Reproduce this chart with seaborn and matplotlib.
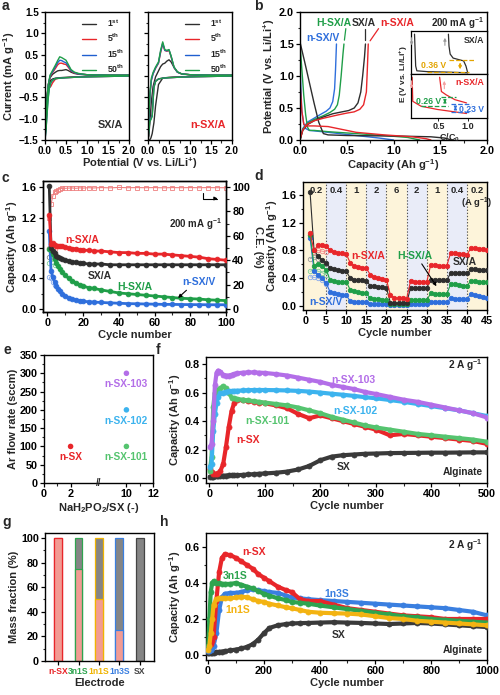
import numpy as np
import matplotlib
matplotlib.use("Agg")
import matplotlib.pyplot as plt
import seaborn as sns
from matplotlib.ticker import MultipleLocator, FixedLocator

# ----- data -----
# a: cyclic voltammetry (cathodic scan 2.0 -> 0 V, anodic scan 0 -> 2.0 V)
cv_cath_v = [2.0, 1.5, 1.0, 0.7, 0.5, 0.35, 0.25, 0.18, 0.14, 0.10, 0.07, 0.04, 0.02, 0.0]
cv_anod_v = [0.0, 0.02, 0.05, 0.08, 0.12, 0.18, 0.25, 0.30, 0.35, 0.40, 0.45, 0.50, 0.55, 0.62, 0.70, 0.80, 1.0, 1.5, 2.0]
cv_cycles = ["1$^{st}$", "5$^{th}$", "15$^{th}$", "50$^{th}$"]

sxa_cath_1 = [0.01, 0.0, -0.01, -0.02, -0.03, -0.04, -0.05, -0.07, -0.10, -0.20, -0.40, -0.80, -1.10, -1.50]
sxa_cath_5 = [0.0, -0.01, -0.02, -0.03, -0.04, -0.05, -0.07, -0.16, -0.24, -0.28, -0.45, -0.90, -1.20, -1.50]
sxa_cath_15 = [0.0, -0.01, -0.02, -0.03, -0.04, -0.05, -0.06, -0.10, -0.16, -0.30, -0.55, -1.00, -1.30, -1.50]
sxa_cath_50 = [0.0, -0.01, -0.02, -0.03, -0.04, -0.05, -0.06, -0.10, -0.15, -0.30, -0.60, -1.05, -1.30, -1.50]
sxa_anod_1 = [-1.5, -0.9, -0.45, -0.2, -0.04, 0.04, 0.09, 0.12, 0.13, 0.13, 0.14, 0.15, 0.13, 0.09, 0.06, 0.04, 0.03, 0.02, 0.02]
sxa_anod_5 = [-1.5, -1.0, -0.5, -0.2, -0.02, 0.08, 0.18, 0.26, 0.30, 0.30, 0.28, 0.27, 0.21, 0.12, 0.07, 0.05, 0.03, 0.02, 0.02]
sxa_anod_15 = [-1.5, -1.0, -0.5, -0.2, 0.0, 0.10, 0.22, 0.31, 0.37, 0.36, 0.33, 0.31, 0.24, 0.13, 0.08, 0.05, 0.03, 0.02, 0.02]
sxa_anod_50 = [-1.5, -1.0, -0.5, -0.2, 0.02, 0.13, 0.26, 0.36, 0.45, 0.43, 0.40, 0.37, 0.28, 0.15, 0.09, 0.06, 0.03, 0.02, 0.02]

nsxa_cath_1 = [0.01, 0.0, -0.01, -0.02, -0.03, -0.05, -0.20, -0.70, -1.10, -1.35, -1.45, -1.50, -1.50, -1.50]
nsxa_cath_5 = [0.0, -0.01, -0.02, -0.03, -0.04, -0.05, -0.07, -0.12, -0.25, -0.90, -1.00, -1.05, -1.30, -1.50]
nsxa_cath_15 = [0.0, -0.01, -0.02, -0.03, -0.04, -0.05, -0.07, -0.12, -0.26, -0.92, -1.00, -1.05, -1.30, -1.50]
nsxa_cath_50 = [0.0, -0.01, -0.02, -0.03, -0.04, -0.05, -0.07, -0.13, -0.28, -0.95, -1.02, -1.08, -1.32, -1.50]
nsxa_anod_1 = [-1.5, -1.4, -1.0, -0.6, -0.25, -0.02, 0.12, 0.22, 0.28, 0.30, 0.35, 0.38, 0.33, 0.20, 0.09, 0.05, 0.03, 0.02, 0.02]
nsxa_anod_5 = [-1.5, -1.0, -0.4, -0.1, 0.05, 0.18, 0.30, 0.55, 0.75, 0.60, 0.58, 0.60, 0.45, 0.20, 0.09, 0.05, 0.03, 0.02, 0.02]
nsxa_anod_15 = [-1.5, -1.0, -0.4, -0.1, 0.05, 0.19, 0.31, 0.57, 0.77, 0.60, 0.59, 0.61, 0.46, 0.20, 0.09, 0.05, 0.03, 0.02, 0.02]
nsxa_anod_50 = [-1.5, -0.95, -0.35, -0.05, 0.08, 0.21, 0.33, 0.60, 0.80, 0.62, 0.60, 0.62, 0.47, 0.21, 0.10, 0.05, 0.03, 0.02, 0.02]

# b: charge / discharge profiles at 200 mA/g
sxa_dis_cap = [0.0, 0.05, 0.10, 0.15, 0.20, 0.25, 0.30, 0.50, 0.80, 1.10, 1.40, 1.55, 1.62]
sxa_dis_v = [1.53, 1.22, 0.90, 0.58, 0.28, 0.10, 0.08, 0.07, 0.065, 0.06, 0.05, 0.03, 0.0]
sxa_chg_cap = [0.0, 0.03, 0.08, 0.15, 0.25, 0.35, 0.45, 0.52, 0.58, 0.62, 0.65, 0.67, 0.69, 0.70]
sxa_chg_v = [0.0, 0.15, 0.24, 0.30, 0.36, 0.41, 0.44, 0.46, 0.50, 0.58, 0.75, 1.0, 1.3, 1.5]
nsxa_dis_cap = [0.0, 0.02, 0.04, 0.06, 0.15, 0.30, 0.40, 0.60, 0.90, 1.20, 1.35, 1.40]
nsxa_dis_v = [0.90, 0.45, 0.25, 0.22, 0.22, 0.21, 0.18, 0.12, 0.08, 0.05, 0.02, 0.0]
nsxa_chg_cap = [0.0, 0.03, 0.08, 0.15, 0.25, 0.40, 0.50, 0.58, 0.64, 0.68, 0.71, 0.72, 0.73]
nsxa_chg_v = [0.0, 0.16, 0.25, 0.30, 0.34, 0.39, 0.42, 0.44, 0.48, 0.55, 0.75, 1.1, 1.5]
hsxa_dis_cap = [0.0, 0.02, 0.04, 0.06, 0.08, 0.10, 0.15, 0.30, 0.60, 0.90, 1.15, 1.28]
hsxa_dis_v = [1.5, 1.1, 0.7, 0.4, 0.2, 0.15, 0.15, 0.13, 0.10, 0.07, 0.04, 0.0]
hsxa_chg_cap = [0.0, 0.03, 0.08, 0.15, 0.25, 0.32, 0.37, 0.40, 0.42, 0.44, 0.46, 0.47]
hsxa_chg_v = [0.0, 0.17, 0.26, 0.32, 0.38, 0.43, 0.48, 0.55, 0.70, 1.0, 1.35, 1.5]
nsxv_dis_cap = [0.0, 0.01, 0.02, 0.04, 0.06, 0.10, 0.30, 0.60, 0.85, 1.0]
nsxv_dis_v = [1.15, 0.80, 0.45, 0.25, 0.18, 0.15, 0.12, 0.07, 0.03, 0.0]
nsxv_chg_cap = [0.0, 0.03, 0.08, 0.15, 0.22, 0.28, 0.32, 0.35, 0.37, 0.38, 0.39]
nsxv_chg_v = [0.0, 0.18, 0.28, 0.34, 0.40, 0.45, 0.50, 0.60, 0.80, 1.1, 1.5]

# b inset: normalised profiles (E in relative units)
in_sx_dis_c = [0.09, 0.10, 0.11, 0.13, 0.30, 0.60, 1.00]
in_sx_dis_e = [1.0, 0.6, 0.2, 0.08, 0.06, 0.05, 0.03]
in_sx_chg_c = [0.67, 0.68, 0.70, 0.75, 0.85, 0.93, 0.97, 1.00]
in_sx_chg_e = [1.0, 0.7, 0.5, 0.40, 0.36, 0.33, 0.20, 0.03]
in_nsx_dis_c = [0.05, 0.055, 0.06, 0.20, 0.48, 0.98]
in_nsx_dis_e = [1.0, 0.7, 0.41, 0.29, 0.21, 0.11]
in_nsx_chg_c = [0.52, 0.55, 0.63, 0.78, 0.98]
in_nsx_chg_e = [1.0, 0.65, 0.57, 0.45, 0.37]

# c: cycling at 200 mA/g
c_cycles = [1, 2, 3, 4, 5, 6, 7, 8, 10, 12, 14, 16, 18, 20, 23, 26, 30, 35, 40, 45, 50, 55, 60, 65, 70, 75, 80, 85, 90, 95, 100]
c_nsxa = [1.24, 0.85, 0.86, 0.84, 0.83, 0.83, 0.82, 0.82, 0.81, 0.80, 0.79, 0.79, 0.78, 0.77, 0.77, 0.76, 0.76, 0.75, 0.74, 0.74, 0.73, 0.73, 0.72, 0.72, 0.71, 0.70, 0.69, 0.68, 0.66, 0.65, 0.64]
c_sxa = [1.62, 0.80, 0.76, 0.73, 0.70, 0.68, 0.67, 0.66, 0.64, 0.63, 0.62, 0.61, 0.60, 0.60, 0.59, 0.59, 0.59, 0.58, 0.58, 0.58, 0.58, 0.58, 0.58, 0.58, 0.58, 0.58, 0.58, 0.58, 0.58, 0.58, 0.58]
c_hsxa = [0.79, 0.78, 0.72, 0.66, 0.60, 0.56, 0.52, 0.49, 0.44, 0.40, 0.37, 0.34, 0.32, 0.30, 0.28, 0.27, 0.25, 0.23, 0.21, 0.20, 0.19, 0.18, 0.17, 0.16, 0.15, 0.14, 0.135, 0.13, 0.12, 0.115, 0.11]
c_nsxv = [1.03, 0.50, 0.42, 0.36, 0.30, 0.26, 0.23, 0.20, 0.17, 0.15, 0.13, 0.12, 0.11, 0.10, 0.095, 0.09, 0.085, 0.08, 0.075, 0.07, 0.068, 0.065, 0.063, 0.06, 0.06, 0.058, 0.057, 0.056, 0.055, 0.055, 0.055]
c_ce = [75, 86, 93, 96, 97, 98, 98.5, 99, 99, 99.2, 99.3, 99.0, 99.4, 99.2, 99.5, 99.3, 99.6, 99.4, 99.7, 99.5, 99.6, 99.5, 99.6, 99.4, 99.6, 99.5, 99.6, 99.5, 99.6, 99.5, 99.5]
c_dis_cycles = [1, 2, 3, 4]
c_nsxa_dis = [0.80, 0.82, 0.80, 0.79]
c_sxa_dis = [0.68, 0.70, 0.68, 0.66]
c_hsxa_dis = [0.60, 0.66, 0.62, 0.58]
c_nsxv_dis = [0.42, 0.40, 0.36, 0.32]

# d: rate capability
d_rates = ["0.2", "0.4", "1", "2", "6", "2", "1", "0.4", "0.2"]
d_nsxa = [1.05, 0.80, 0.88, 0.88, 0.87, 0.80, 0.78, 0.77, 0.76, 0.75, 0.62, 0.58, 0.56, 0.55, 0.54, 0.45, 0.42, 0.40, 0.39, 0.38, 0.15, 0.12, 0.11, 0.11, 0.10, 0.36, 0.35, 0.34, 0.34, 0.34, 0.59, 0.59, 0.58, 0.58, 0.58, 0.77, 0.76, 0.75, 0.75, 0.74, 0.83, 0.83, 0.82, 0.82, 0.81]
d_sxa = [1.65, 0.80, 0.72, 0.66, 0.62, 0.55, 0.53, 0.52, 0.51, 0.50, 0.40, 0.38, 0.37, 0.37, 0.36, 0.29, 0.28, 0.27, 0.27, 0.26, 0.04, 0.04, 0.04, 0.04, 0.04, 0.26, 0.26, 0.26, 0.26, 0.26, 0.37, 0.37, 0.37, 0.37, 0.37, 0.48, 0.47, 0.47, 0.47, 0.47, 0.53, 0.53, 0.52, 0.52, 0.52]
d_hsxa = [1.03, 0.58, 0.60, 0.57, 0.52, 0.37, 0.36, 0.35, 0.34, 0.35, 0.23, 0.21, 0.20, 0.19, 0.18, 0.11, 0.10, 0.10, 0.09, 0.09, 0.02, 0.02, 0.02, 0.02, 0.02, 0.08, 0.08, 0.08, 0.08, 0.08, 0.18, 0.17, 0.17, 0.17, 0.17, 0.32, 0.31, 0.30, 0.29, 0.29, 0.36, 0.36, 0.35, 0.35, 0.35]
d_nsxv = [0.98, 0.50, 0.45, 0.40, 0.33, 0.20, 0.18, 0.17, 0.16, 0.15, 0.07, 0.06, 0.06, 0.05, 0.05, 0.03, 0.03, 0.02, 0.02, 0.02, 0.01, 0.01, 0.01, 0.01, 0.01, 0.02, 0.02, 0.02, 0.02, 0.02, 0.05, 0.05, 0.05, 0.05, 0.05, 0.11, 0.10, 0.10, 0.10, 0.10, 0.17, 0.15, 0.14, 0.13, 0.12]
d_dis_cycles = [1, 2, 3, 4, 5]
d_nsxa_dis = [1.02, 0.78, 0.80, 0.79, 0.78]
d_sxa_dis = [0.68, 0.70, 0.68, 0.63, 0.60]
d_hsxa_dis = [0.50, 0.52, 0.50, 0.48, 0.45]
d_nsxv_dis = [0.42, 0.41, 0.40, 0.38, 0.32]

# e: synthesis conditions
e_names = ["n-SX", "n-SX-101", "n-SX-102", "n-SX-103"]
e_ratio = [2, 10, 10, 10]
e_flow = [100, 100, 200, 300]

# f: 2 A/g, 500 cycles
f_cycles = [1, 4, 7, 10, 13, 16, 20, 25, 30, 35, 40, 45, 50, 60, 70, 80, 90, 100, 120, 140, 160, 180, 200, 220, 240, 260, 280, 300, 325, 350, 375, 400, 425, 450, 475, 500]
f_103 = [0.22, 0.24, 0.40, 0.65, 0.74, 0.755, 0.745, 0.725, 0.72, 0.72, 0.725, 0.73, 0.735, 0.74, 0.742, 0.742, 0.74, 0.738, 0.73, 0.72, 0.705, 0.69, 0.675, 0.655, 0.64, 0.625, 0.605, 0.59, 0.57, 0.55, 0.535, 0.515, 0.495, 0.475, 0.455, 0.425]
f_102 = [0.08, 0.10, 0.33, 0.45, 0.53, 0.57, 0.595, 0.60, 0.605, 0.61, 0.61, 0.612, 0.613, 0.615, 0.617, 0.618, 0.618, 0.618, 0.617, 0.615, 0.612, 0.607, 0.60, 0.592, 0.585, 0.577, 0.568, 0.56, 0.548, 0.535, 0.52, 0.505, 0.49, 0.475, 0.455, 0.435]
f_101 = [0.05, 0.15, 0.50, 0.60, 0.62, 0.62, 0.63, 0.645, 0.63, 0.60, 0.565, 0.56, 0.555, 0.55, 0.545, 0.54, 0.535, 0.53, 0.52, 0.51, 0.495, 0.475, 0.455, 0.43, 0.41, 0.39, 0.37, 0.355, 0.34, 0.325, 0.31, 0.30, 0.29, 0.28, 0.27, 0.255]
f_nsx = [0.06, 0.04, 0.03, 0.03, 0.03, 0.035, 0.05, 0.10, 0.22, 0.36, 0.47, 0.53, 0.55, 0.545, 0.54, 0.535, 0.53, 0.525, 0.51, 0.49, 0.45, 0.42, 0.44, 0.42, 0.40, 0.38, 0.36, 0.34, 0.30, 0.31, 0.30, 0.29, 0.28, 0.27, 0.26, 0.24]
f_sx = [0.01, 0.01, 0.01, 0.012, 0.013, 0.014, 0.015, 0.016, 0.017, 0.018, 0.019, 0.02, 0.02, 0.022, 0.025, 0.027, 0.03, 0.032, 0.037, 0.045, 0.06, 0.085, 0.125, 0.15, 0.16, 0.165, 0.17, 0.172, 0.175, 0.176, 0.177, 0.178, 0.178, 0.179, 0.18, 0.18]

# g: electrode composition
g_names = ["n-SX", "3n1S", "1n1S", "1n3S", "SX"]
g_nsx_frac = [100, 75, 50, 25, 0]
g_total = [100, 100, 100, 100, 100]

# h: 2 A/g, 1000 cycles
h_cycles = [1, 5, 10, 15, 20, 30, 40, 50, 60, 80, 100, 120, 140, 160, 180, 200, 220, 250, 280, 300, 330, 360, 400, 450, 500, 550, 600, 650, 700, 750, 800, 850, 900, 950, 1000]
h_nsx = [0.05, 0.05, 0.06, 0.08, 0.10, 0.30, 0.46, 0.54, 0.56, 0.555, 0.54, 0.52, 0.50, 0.48, 0.45, 0.43, 0.41, 0.38, 0.36, 0.35, 0.31, 0.30, 0.30, 0.28, 0.26, 0.25, 0.24, 0.23, 0.22, 0.215, 0.21, 0.20, 0.20, 0.20, 0.20]
h_3n1s = [0.05, 0.20, 0.35, 0.40, 0.41, 0.40, 0.40, 0.395, 0.395, 0.395, 0.40, 0.39, 0.38, 0.37, 0.355, 0.34, 0.33, 0.315, 0.305, 0.295, 0.29, 0.285, 0.275, 0.265, 0.255, 0.245, 0.235, 0.225, 0.215, 0.21, 0.20, 0.195, 0.19, 0.185, 0.18]
h_1n1s = [0.03, 0.05, 0.12, 0.20, 0.28, 0.31, 0.315, 0.315, 0.315, 0.315, 0.32, 0.325, 0.32, 0.31, 0.30, 0.295, 0.285, 0.275, 0.265, 0.26, 0.25, 0.24, 0.235, 0.232, 0.23, 0.225, 0.215, 0.205, 0.20, 0.19, 0.185, 0.18, 0.175, 0.17, 0.165]
h_1n3s = [0.02, 0.02, 0.03, 0.04, 0.05, 0.12, 0.25, 0.32, 0.34, 0.345, 0.345, 0.35, 0.36, 0.365, 0.36, 0.355, 0.35, 0.345, 0.33, 0.32, 0.315, 0.31, 0.305, 0.30, 0.295, 0.29, 0.285, 0.28, 0.275, 0.27, 0.265, 0.26, 0.25, 0.24, 0.22]
h_sx = [0.01, 0.01, 0.01, 0.012, 0.013, 0.015, 0.017, 0.019, 0.021, 0.025, 0.03, 0.036, 0.045, 0.06, 0.085, 0.12, 0.15, 0.165, 0.172, 0.175, 0.177, 0.178, 0.18, 0.182, 0.18, 0.178, 0.175, 0.172, 0.175, 0.178, 0.175, 0.17, 0.165, 0.16, 0.155]

# ----- colours -----
RED = "#e8262a"
BLACK = "#2e2e2e"
GREEN = "#1f9e48"
BLUE = "#2f6fdc"
PURPLE = "#b36ee8"
SKY = "#3cb3ee"
LGREEN = "#55c46f"
YELLOW = "#f3b312"
GOLD = "#e3a400"
PINK = "#f29b93"
GREY = "#858585"

sns.set_style("ticks")
plt.rcParams["font.family"] = ["Liberation Sans", "DejaVu Sans"]
plt.rcParams["font.weight"] = "bold"
plt.rcParams["axes.labelweight"] = "bold"
plt.rcParams["mathtext.fontset"] = "custom"
plt.rcParams["mathtext.rm"] = "Liberation Sans:bold"
plt.rcParams["mathtext.bf"] = "Liberation Sans:bold"
plt.rcParams["mathtext.it"] = "Liberation Sans:bold"
plt.rcParams["mathtext.default"] = "bf"
plt.rcParams["axes.linewidth"] = 1.0
plt.rcParams["axes.edgecolor"] = "black"

W, H = 500, 695
TS = 7.8   # tick size
LS = 8.0   # label size


def rect(l, t, r, b):
    return [l / W, 1 - b / H, (r - l) / W, (b - t) / H]


def style(ax, xmaj=None, xmin=None, ymaj=None, ymin=None, ts=TS):
    for s in ax.spines.values():
        s.set_visible(True)
        s.set_linewidth(1.0)
        s.set_color("black")
    ax.tick_params(which="major", direction="out", length=3, width=0.9, labelsize=ts, pad=1.5, colors="black")
    ax.tick_params(which="minor", direction="out", length=1.8, width=0.8)
    if xmaj:
        ax.xaxis.set_major_locator(MultipleLocator(xmaj))
    if xmin:
        ax.xaxis.set_minor_locator(MultipleLocator(xmin))
    if ymaj:
        ax.yaxis.set_major_locator(MultipleLocator(ymaj))
    if ymin:
        ax.yaxis.set_minor_locator(MultipleLocator(ymin))
    ax.xaxis.label.set_size(LS)
    ax.yaxis.label.set_size(LS)


def curve(ax, x, y, color, lw=0.9, **kw):
    sns.lineplot(x=x, y=y, ax=ax, color=color, lw=lw, sort=False, estimator=None, **kw)


def dots(ax, x, y, color, lw=0.8, ms=3.2, hollow=False, z=3, alpha=1.0, marker="o"):
    sns.lineplot(x=x, y=y, ax=ax, color=color, lw=lw, sort=False, estimator=None,
                 marker=marker, markersize=ms, markeredgecolor=color,
                 markerfacecolor="none" if hollow else color,
                 markeredgewidth=0.6, zorder=z, alpha=alpha)


fig = plt.figure(figsize=(5.0, 6.95), dpi=100)

# ----------------------------------------------------------------------
# a  CV curves
# ----------------------------------------------------------------------
cv_colors = [BLACK, RED, "#1f5fd0", GREEN]
axa1 = fig.add_axes(rect(45, 12, 129, 140))
axa2 = fig.add_axes(rect(148, 12, 232, 140))
panels_a = [
    (axa1, [sxa_cath_1, sxa_cath_5, sxa_cath_15, sxa_cath_50], [sxa_anod_1, sxa_anod_5, sxa_anod_15, sxa_anod_50], "SX/A", BLACK),
    (axa2, [nsxa_cath_1, nsxa_cath_5, nsxa_cath_15, nsxa_cath_50], [nsxa_anod_1, nsxa_anod_5, nsxa_anod_15, nsxa_anod_50], "n-SX/A", RED),
]
for ax, caths, anods, name, ncol in panels_a:
    for cath, anod, col, lab in zip(caths, anods, cv_colors, cv_cycles):
        curve(ax, cv_cath_v + cv_anod_v, cath + anod, col, lw=1.0, label=lab)
    ax.set_xlim(0, 2)
    ax.set_ylim(-1.5, 1.5)
    style(ax, 0.5, 0.25, 0.5, 0.25, ts=7.2)
    ax.set_xlabel("")
    ax.set_ylabel("")
    ax.legend(loc="upper right", frameon=False, fontsize=6.3, handlelength=1.6,
              handletextpad=1.2, labelspacing=0.35, borderaxespad=0.2)
    ax.text(0.93, 0.08, name, transform=ax.transAxes, ha="right", va="bottom",
            fontsize=7.8, color=ncol, fontweight="bold")
axa2.set_yticklabels([])
axa1.set_ylabel("Current (mA g$^{-1}$)", fontsize=LS, labelpad=1)
fig.text(140 / W, 1 - 163 / H, "Potential (V vs. Li/Li$^{+}$)", ha="center", va="center",
         fontsize=LS, fontweight="bold")
fig.text(2 / W, 1 - 6 / H, "a", fontsize=10, fontweight="bold", va="center")

# ----------------------------------------------------------------------
# b  charge / discharge profiles
# ----------------------------------------------------------------------
axb = fig.add_axes(rect(300, 12, 487, 140))
for dc, dv, cc, cv, col in [
    (nsxv_dis_cap, nsxv_dis_v, nsxv_chg_cap, nsxv_chg_v, BLUE),
    (hsxa_dis_cap, hsxa_dis_v, hsxa_chg_cap, hsxa_chg_v, GREEN),
    (sxa_dis_cap, sxa_dis_v, sxa_chg_cap, sxa_chg_v, BLACK),
    (nsxa_dis_cap, nsxa_dis_v, nsxa_chg_cap, nsxa_chg_v, RED),
]:
    curve(axb, dc, dv, col, lw=1.0)
    curve(axb, cc, cv, col, lw=1.0)
axb.set_xlim(0, 2)
axb.set_ylim(0, 2)
style(axb, 0.5, 0.25, 0.5, 0.25)
axb.set_xlabel("Capacity (Ah g$^{-1}$)", labelpad=1)
axb.set_ylabel("Potential (V vs. Li/Li$^{+}$)", labelpad=1)
for txt, x, y, col in [("n-SX/V", 0.24, 1.59, BLUE), ("H-SX/A", 0.36, 1.83, GREEN),
                       ("SX/A", 0.68, 1.83, BLACK), ("n-SX/A", 1.04, 1.83, RED)]:
    axb.text(x, y, txt, color=col, fontsize=7.5, ha="center", va="center", fontweight="bold")
for x0, y0, x1, y1, col in [(0.475, 1.56, 0.49, 1.74, GREEN), (0.70, 1.56, 0.70, 1.74, BLACK),
                            (0.75, 1.55, 0.84, 1.74, RED)]:
    axb.plot([x0, x1], [y0, y1], color=col, lw=0.9)
axb.text(1.69, 1.83, "200 mA g$^{-1}$", fontsize=7, ha="center", va="center", fontweight="bold")
fig.text(254 / W, 1 - 6 / H, "b", fontsize=10, fontweight="bold", va="center")

# inset
ax_it = fig.add_axes(rect(411, 31, 487, 74))
ax_ib = fig.add_axes(rect(411, 74, 487, 118))
curve(ax_it, in_sx_dis_c, in_sx_dis_e, BLACK, lw=0.9)
curve(ax_it, in_sx_chg_c, in_sx_chg_e, BLACK, lw=0.9)
curve(ax_ib, in_nsx_dis_c, in_nsx_dis_e, RED, lw=0.9)
curve(ax_ib, in_nsx_chg_c, in_nsx_chg_e, RED, lw=0.9)
for ax in (ax_it, ax_ib):
    ax.set_xlim(0.03, 1.33)
    ax.set_ylim(0, 1.08)
    for s in ax.spines.values():
        s.set_linewidth(0.9)
        s.set_color("black")
    ax.set_yticks([])
    ax.set_xticks([0.5, 1.0])
    ax.tick_params(axis="x", direction="out", length=2, width=0.7, labelsize=6.5, pad=1)
    ax.set_xlabel("")
    ax.set_ylabel("")
ax_it.set_xticklabels([])
ax_ib.set_xlabel("C/C$_0$", fontsize=6.5, labelpad=0)
ax_it.hlines([0.36, 0.05], [0.68, 0.30], [1.12, 1.02], colors=GOLD, linestyles="--", lw=0.9)
ax_it.annotate("", xy=(0.87, 0.05), xytext=(0.87, 0.36),
               arrowprops=dict(arrowstyle="<|-|>", color=GOLD, lw=0.8, mutation_scale=4))
ax_it.text(0.42, 0.22, "0.36 V", color=GOLD, fontsize=6.2, ha="center", va="center", fontweight="bold")
ax_it.text(1.28, 0.84, "SX/A", color=BLACK, fontsize=6.3, ha="right", va="center", fontweight="bold")
ax_it.annotate("", xy=(0.04, 0.65), xytext=(0.04, 0.98),
               arrowprops=dict(arrowstyle="-|>", color="#999999", lw=0.8, mutation_scale=4))
ax_it.annotate("", xy=(0.61, 0.98), xytext=(0.61, 0.65),
               arrowprops=dict(arrowstyle="-|>", color="#999999", lw=0.8, mutation_scale=4))
ax_ib.hlines([0.52, 0.30], [0.55, 0.20], [0.80, 0.66], colors=GREEN, linestyles="--", lw=0.9)
ax_ib.annotate("", xy=(0.61, 0.30), xytext=(0.61, 0.52),
               arrowprops=dict(arrowstyle="<|-|>", color=GREEN, lw=0.8, mutation_scale=4))
ax_ib.text(0.33, 0.40, "0.26 V", color=GREEN, fontsize=6.2, ha="center", va="center", fontweight="bold")
ax_ib.hlines([0.35, 0.14], [0.72, 0.72], [1.06, 1.06], colors=BLUE, linestyles="--", lw=0.9)
ax_ib.annotate("", xy=(0.79, 0.14), xytext=(0.79, 0.35),
               arrowprops=dict(arrowstyle="<|-|>", color=BLUE, lw=0.8, mutation_scale=4))
ax_ib.text(1.06, 0.2, "0.23 V", color=BLUE, fontsize=6.2, ha="center", va="center", fontweight="bold")
ax_ib.text(1.28, 0.86, "n-SX/A", color=RED, fontsize=6.3, ha="right", va="center", fontweight="bold")
ax_ib.annotate("", xy=(0.04, 0.65), xytext=(0.04, 0.98),
               arrowprops=dict(arrowstyle="-|>", color="#f4a0a0", lw=0.8, mutation_scale=4))
ax_ib.annotate("", xy=(0.6, 0.98), xytext=(0.6, 0.65),
               arrowprops=dict(arrowstyle="-|>", color="#f4a0a0", lw=0.8, mutation_scale=4))
fig.text(404 / W, 1 - 74 / H, "E (V vs. Li/Li$^{+}$)", rotation=90, ha="center", va="center",
         fontsize=6.0, fontweight="bold")

# ----------------------------------------------------------------------
# c  cycling at 200 mA/g
# ----------------------------------------------------------------------
axc = fig.add_axes(rect(43, 181, 226, 312))
axc2 = axc.twinx()
dots(axc2, c_cycles, c_ce, "#ee7f7f", lw=0.8, ms=2.6, hollow=True, z=2, marker="s")
dots(axc, c_dis_cycles, c_nsxa_dis, "#f08a8a", lw=0, ms=3.2, hollow=True)
dots(axc, c_dis_cycles, c_sxa_dis, "#888888", lw=0, ms=3.2, hollow=True)
dots(axc, c_dis_cycles, c_hsxa_dis, "#7fcf98", lw=0, ms=3.2, hollow=True)
dots(axc, c_dis_cycles, c_nsxv_dis, "#86a8ec", lw=0, ms=3.2, hollow=True)
dots(axc, c_cycles, c_nsxv, BLUE, lw=2.0, ms=3.4)
dots(axc, c_cycles, c_hsxa, GREEN, lw=2.0, ms=3.4)
dots(axc, c_cycles, c_sxa, BLACK, lw=2.0, ms=3.4)
dots(axc, c_cycles, c_nsxa, RED, lw=2.0, ms=3.4)
axc.set_xlim(-2.5, 100)
axc.set_ylim(-0.04, 1.68)
axc2.set_ylim(-2.5, 105)
style(axc, 20, 10, 0.4, 0.2)
style(axc2, None, None, 20, 10)
axc2.tick_params(axis="y", which="both", right=True, left=False, labelright=True, labelleft=False)
axc.tick_params(axis="y", which="both", right=False)
axc.set_xlabel("Cycle number", labelpad=1)
axc.set_ylabel("Capacity (Ah g$^{-1}$)", labelpad=1)
axc2.set_ylabel("C.E. (%)", rotation=270, labelpad=9, fontsize=LS)
axc.set_zorder(axc2.get_zorder() + 1)
axc.patch.set_visible(False)
for txt, x, y, col in [("n-SX/A", 19.5, 0.90, RED), ("SX/A", 29.5, 0.43, BLACK),
                       ("H-SX/A", 49, 0.29, GREEN), ("n-SX/V", 85, 0.36, BLUE)]:
    axc.text(x, y, txt, color=col, fontsize=7.5, ha="center", va="center", fontweight="bold")
axc.text(83, 1.11, "200 mA g$^{-1}$", fontsize=7, ha="center", va="center", fontweight="bold")
axc.annotate("", xy=(72, 0.12), xytext=(79, 0.27),
             arrowprops=dict(arrowstyle="-|>", color="black", lw=0.8, mutation_scale=5))
axc.annotate("", xy=(97, 1.45), xytext=(87, 1.56),
             arrowprops=dict(arrowstyle="-|>", color="black", lw=0.8, mutation_scale=5,
                             connectionstyle="angle,angleA=90,angleB=0,rad=0"))
fig.text(2 / W, 1 - 178 / H, "c", fontsize=10, fontweight="bold", va="center")

# ----------------------------------------------------------------------
# d  rate capability
# ----------------------------------------------------------------------
axd = fig.add_axes(rect(303, 182, 487, 310))
d_cycles = list(range(1, len(d_nsxa) + 1))
band_cols = ["#fdf4da", "#e9ecf8"]
for i, r in enumerate(d_rates):
    lo = -0.75 if i == 0 else 5 * i
    axd.axvspan(lo, 5 * (i + 1), color=band_cols[i % 2], zorder=0, lw=0)
    if i > 0:
        axd.axvline(5 * i, color="#555555", ls=(0, (1.2, 1.6)), lw=0.8, zorder=1)
    axd.text(5 * i + 2.5, 1.66, r, ha="center", va="center", fontsize=6.8, fontweight="bold")
axd.text(40.3 + 2.2, 1.48, "(A g$^{-1}$)", ha="center", va="center", fontsize=6.8, fontweight="bold")
dots(axd, d_dis_cycles, d_nsxa_dis, "#f08a8a", lw=0.6, ms=3.2, hollow=True)
dots(axd, d_dis_cycles, d_sxa_dis, "#999999", lw=0.6, ms=3.2, hollow=True)
dots(axd, d_dis_cycles, d_hsxa_dis, "#7fcf98", lw=0.6, ms=3.2, hollow=True)
dots(axd, d_dis_cycles, d_nsxv_dis, "#86a8ec", lw=0.6, ms=3.2, hollow=True)
dots(axd, d_cycles, d_nsxv, BLUE, lw=0.8, ms=3.2)
dots(axd, d_cycles, d_hsxa, GREEN, lw=0.8, ms=3.2)
dots(axd, d_cycles, d_sxa, BLACK, lw=0.8, ms=3.2)
dots(axd, d_cycles, d_nsxa, RED, lw=0.8, ms=3.2)
axd.set_xlim(-0.75, 45)
axd.set_ylim(-0.06, 1.79)
style(axd, 5, None, 0.4, 0.2)
axd.set_xlabel("Cycle number", labelpad=1)
axd.set_ylabel("Capacity (Ah g$^{-1}$)", labelpad=1)
for txt, x, y, col in [("n-SX/A", 15.5, 0.72, RED), ("H-SX/A", 27, 0.72, GREEN),
                       ("SX/A", 39.5, 0.63, BLACK), ("n-SX/V", 5.0, 0.05, BLUE)]:
    axd.text(x, y, txt, color=col, fontsize=7.5, ha="center", va="center", fontweight="bold", zorder=5)
axd.annotate("", xy=(32.8, 0.25), xytext=(28.4, 0.64),
             arrowprops=dict(arrowstyle="-|>", color="black", lw=0.8, mutation_scale=5))
fig.text(254 / W, 1 - 176 / H, "d", fontsize=10, fontweight="bold", va="center")

# ----------------------------------------------------------------------
# e  synthesis map (broken x axis)
# ----------------------------------------------------------------------
def brk_fwd(x):
    x = np.asarray(x, float)
    return np.where(x <= 2, x, np.where(x >= 10, x - 3.8, 2 + (x - 2) * 0.525))


def brk_inv(p):
    p = np.asarray(p, float)
    return np.where(p <= 2, p, np.where(p >= 6.2, p + 3.8, 2 + (p - 2) / 0.525))


axe = fig.add_axes(rect(44, 355, 153, 483))
e_cols = [RED, LGREEN, SKY, PURPLE]
axe.set_xscale("function", functions=(brk_fwd, brk_inv))
sns.scatterplot(x=e_ratio, y=e_flow, hue=e_names, palette=e_cols, ax=axe, s=16,
                edgecolor="none", legend=False, zorder=3)
axe.set_xlim(0, 12)
axe.set_ylim(0, 350)
style(axe, None, None, 50, 25)
axe.xaxis.set_major_locator(FixedLocator([0, 2, 10, 12]))
axe.xaxis.set_minor_locator(FixedLocator([1, 11]))
axe.set_xticklabels(["0", "2", "10", "12"])
axe.set_xlabel("NaH$_2$PO$_2$/SX (-)", labelpad=1)
axe.set_ylabel("Ar flow rate (sccm)", labelpad=1)
for name, x, y, col in zip(e_names, e_ratio, e_flow, e_cols):
    axe.text(x, y - 30, name, color=col, fontsize=7.3, ha="center", va="center", fontweight="bold")
axe.text(6, 0, "//", ha="center", va="center", fontsize=7, fontweight="bold", clip_on=False)
fig.text(3 / W, 1 - 350 / H, "e", fontsize=10, fontweight="bold", va="center")

# ----------------------------------------------------------------------
# f  2 A/g cycling, phosphidation series
# ----------------------------------------------------------------------
axf = fig.add_axes(rect(206, 357, 487, 483))
for ys, col in [(f_sx, "#3a3a3a"), (f_nsx, RED), (f_101, LGREEN), (f_102, SKY), (f_103, PURPLE)]:
    dots(axf, f_cycles, ys, col, lw=3.0, ms=3.6)
axf.set_xlim(-6, 500)
axf.set_ylim(-0.035, 0.85)
style(axf, 100, 50, 0.2, 0.1)
axf.set_xlabel("Cycle number", labelpad=1)
axf.set_ylabel("Capacity (Ah g$^{-1}$)", labelpad=1)
for txt, x, y, col in [("n-SX-103", 260, 0.69, PURPLE), ("n-SX-102", 262, 0.47, SKY),
                       ("n-SX-101", 105, 0.40, LGREEN), ("n-SX", 70, 0.27, RED),
                       ("SX", 242, 0.08, BLACK)]:
    axf.text(x, y, txt, color=col, fontsize=7.5, ha="center", va="center", fontweight="bold")
axf.text(492, 0.04, "Alginate", fontsize=7.3, ha="right", va="center", fontweight="bold")
axf.text(492, 0.79, "2 A g$^{-1}$", fontsize=7.3, ha="right", va="center", fontweight="bold")
fig.text(156 / W, 1 - 350 / H, "f", fontsize=10, fontweight="bold", va="center")

# ----------------------------------------------------------------------
# g  electrode composition
# ----------------------------------------------------------------------
axg = fig.add_axes(rect(45, 533, 154, 661))
g_cols = [RED, "#2ea44f", "#f0b400", "#3a7fe0", "#444444"]
sns.barplot(x=g_names, y=g_total, color=GREY, width=0.38, ax=axg, saturation=1)
sns.barplot(x=g_names, y=g_nsx_frac, color=PINK, width=0.38, ax=axg, saturation=1)
for i, p in enumerate(axg.patches):
    p.set_edgecolor(g_cols[i % len(g_cols)])
    p.set_linewidth(0.9)
axg.set_xlim(-0.65, 4.7)
axg.set_ylim(0, 104)
style(axg, None, None, 20, 10)
axg.tick_params(axis="x", pad=1)
axg.set_xlabel("Electrode", labelpad=2)
axg.set_ylabel("Mass fraction (%)", labelpad=1)
for lab, col in zip(axg.get_xticklabels(), g_cols):
    lab.set_color(col)
    lab.set_fontsize(6.2)
fig.text(2 / W, 1 - 522 / H, "g", fontsize=10, fontweight="bold", va="center")

# ----------------------------------------------------------------------
# h  2 A/g cycling, blend series
# ----------------------------------------------------------------------
axh = fig.add_axes(rect(206, 533, 487, 660))
for ys, col in [(h_sx, "#3a3a3a"), (h_1n3s, "#3a7fe0"), (h_nsx, RED), (h_3n1s, "#2ea44f"), (h_1n1s, YELLOW)]:
    dots(axh, h_cycles, ys, col, lw=3.0, ms=3.6)
axh.set_xlim(-7, 1000)
axh.set_ylim(-0.028, 0.678)
style(axh, 200, 100, 0.2, 0.1)
axh.set_xlabel("Cycle number", labelpad=1)
axh.set_ylabel("Capacity (Ah g$^{-1}$)", labelpad=1)
for txt, x, y, col in [("n-SX", 164, 0.57, RED), ("3n1S", 98, 0.44, "#2ea44f"),
                       ("1n3S", 462, 0.34, "#3a7fe0"), ("1n1S", 106, 0.25, YELLOW),
                       ("SX", 468, 0.11, BLACK)]:
    axh.text(x, y, txt, color=col, fontsize=7.5, ha="center", va="center", fontweight="bold")
axh.text(985, 0.03, "Alginate", fontsize=7.3, ha="right", va="center", fontweight="bold")
axh.text(985, 0.61, "2 A g$^{-1}$", fontsize=7.3, ha="right", va="center", fontweight="bold")
fig.text(160 / W, 1 - 522 / H, "h", fontsize=10, fontweight="bold", va="center")

fig.savefig("out.png", dpi=100)
